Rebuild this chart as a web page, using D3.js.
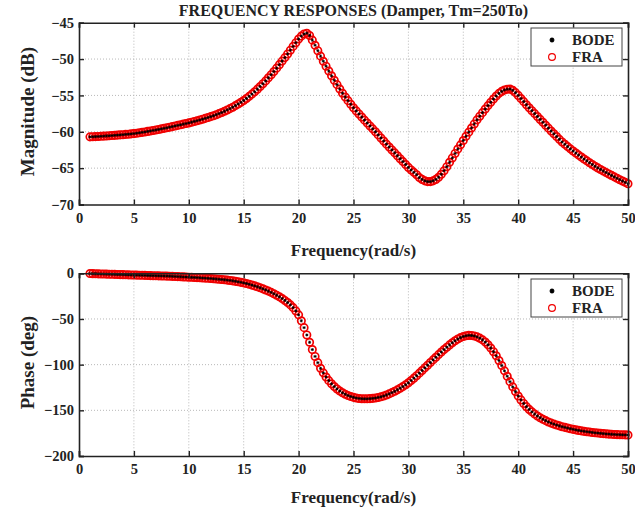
<!DOCTYPE html>
<html><head><meta charset="utf-8">
<script src="https://cdn.jsdelivr.net/npm/d3@7/dist/d3.min.js"></script>
<style>body{margin:0;background:#fff}svg{display:block}text{font-family:"Liberation Serif","Times New Roman",serif;font-weight:bold;fill:#222}</style>
</head><body>
<script>
const titleText = "FREQUENCY RESPONSES (Damper, Tm=250To)";
const xLabel = "Frequency(rad/s)";
const magLabel = "Magnitude (dB)";
const phaseLabel = "Phase (deg)";
const seriesNames = ["BODE", "FRA"];
const xTicks = [0,5,10,15,20,25,30,35,40,45,50];
const magTicks = [-70,-65,-60,-55,-50,-45];
const phaseTicks = [-200,-150,-100,-50,0];
// frequency grid (rad/s), 0.25 rad/s step from 1 to 50
const freq = d3.range(1, 50.001, 0.25);
// magnitude (dB)
const magBode = [
-60.70,-60.68,-60.67,-60.65,-60.62,-60.60,-60.57,-60.55,-60.52,-60.49,-60.46,-60.43,-60.40,-60.36,-60.33,-60.29,
-60.25,-60.20,-60.14,-60.08,-60.02,-59.95,-59.89,-59.82,-59.75,-59.68,-59.60,-59.53,-59.45,-59.37,-59.29,-59.20,
-59.12,-59.04,-58.95,-58.87,-58.78,-58.68,-58.58,-58.48,-58.38,-58.27,-58.16,-58.04,-57.92,-57.79,-57.65,-57.50,
-57.35,-57.18,-57.00,-56.82,-56.62,-56.40,-56.18,-55.95,-55.70,-55.42,-55.13,-54.82,-54.50,-54.14,-53.77,-53.39,
-53.00,-52.58,-52.15,-51.71,-51.25,-50.77,-50.28,-49.80,-49.30,-48.78,-48.26,-47.75,-47.25,-46.85,-46.55,-46.45,
-46.75,-47.40,-48.10,-48.85,-49.60,-50.30,-50.98,-51.65,-52.30,-52.92,-53.52,-54.12,-54.70,-55.22,-55.72,-56.22,
-56.70,-57.13,-57.55,-57.98,-58.40,-58.80,-59.20,-59.60,-60.00,-60.43,-60.85,-61.28,-61.70,-62.10,-62.50,-62.90,
-63.30,-63.70,-64.10,-64.50,-64.90,-65.25,-65.58,-65.90,-66.30,-66.55,-66.75,-66.85,-66.85,-66.75,-66.55,-66.25,
-65.85,-65.35,-64.80,-64.20,-63.60,-62.98,-62.38,-61.80,-61.20,-60.62,-60.05,-59.48,-58.92,-58.36,-57.86,-57.37,
-56.88,-56.40,-55.94,-55.50,-55.08,-54.72,-54.45,-54.25,-54.15,-54.12,-54.30,-54.62,-55.00,-55.43,-55.85,-56.28,
-56.70,-57.10,-57.50,-57.90,-58.30,-58.70,-59.10,-59.50,-59.90,-60.28,-60.66,-61.04,-61.40,-61.72,-62.04,-62.35,
-62.65,-62.93,-63.21,-63.48,-63.75,-64.00,-64.26,-64.50,-64.75,-64.97,-65.18,-65.39,-65.60,-65.80,-66.00,-66.20,
-66.40,-66.59,-66.78,-66.96,-67.15];
const magFra = magBode.slice();
// phase (deg)
const phaseBode = [
-0.3,-0.4,-0.5,-0.6,-0.7,-0.8,-0.9,-1.0,-1.1,-1.2,-1.3,-1.4,-1.5,-1.6,-1.7,-1.8,
-1.9,-2.0,-2.1,-2.2,-2.3,-2.4,-2.5,-2.6,-2.7,-2.8,-2.9,-3.0,-3.1,-3.2,-3.35,-3.5,
-3.65,-3.8,-3.95,-4.1,-4.25,-4.4,-4.55,-4.7,-4.9,-5.1,-5.3,-5.5,-5.7,-5.95,-6.2,-6.5,
-6.8,-7.1,-7.45,-7.85,-8.3,-8.8,-9.3,-9.9,-10.5,-11.2,-12.0,-12.9,-13.8,-14.8,-15.9,-17.0,
-18.2,-19.5,-20.9,-22.4,-24.0,-25.7,-27.6,-29.7,-32.0,-34.6,-37.6,-41.2,-45.5,-52.0,-59.5,-67.5,
-75.5,-83.5,-91.0,-97.8,-104.0,-109.0,-113.5,-117.5,-121.0,-124.0,-126.6,-128.9,-130.8,-132.4,-133.8,-134.9,
-135.8,-136.5,-137.0,-137.3,-137.4,-137.4,-137.2,-136.9,-136.5,-135.9,-135.2,-134.3,-133.2,-132.0,-130.6,-129.2,
-127.6,-125.8,-124.0,-122.0,-119.9,-117.4,-114.8,-112.1,-109.3,-106.4,-103.5,-100.6,-97.7,-94.8,-91.9,-89.0,
-86.2,-83.5,-80.9,-78.4,-76.0,-73.9,-72.0,-70.4,-69.2,-68.4,-68.0,-68.1,-68.6,-69.6,-71.0,-72.9,
-75.3,-78.3,-81.8,-85.8,-90.3,-95.5,-101.0,-106.8,-112.7,-118.6,-124.3,-129.5,-134.3,-138.6,-142.5,-146.0,
-149.0,-151.7,-154.1,-156.2,-158.1,-159.8,-161.3,-162.7,-164.0,-165.1,-166.1,-167.0,-167.9,-168.7,-169.4,-170.1,
-170.8,-171.4,-172.0,-172.5,-173.0,-173.4,-173.8,-174.2,-174.6,-174.9,-175.2,-175.5,-175.8,-176.0,-176.2,-176.4,
-176.6,-176.7,-176.8,-176.9,-177.0];
const phaseFra = phaseBode.slice();

const W = 635, H = 511;
const svg = d3.select("body").append("svg").attr("width", W).attr("height", H);
const L = 79, R = 628;

function asterisk(s) {
  const d = s * 0.7;
  return `M${-s},0L${s},0M0,${-s}L0,${s}M${-d},${-d}L${d},${d}M${-d},${d}L${d},${-d}`;
}

function panel(top, bottom, yDomain, yTicks, ySeriesBode, ySeriesFra, yLabel, xLabelY, legendY) {
  const x = d3.scaleLinear().domain([0, 50]).range([L, R]);
  const y = d3.scaleLinear().domain(yDomain).range([bottom, top]);
  const g = svg.append("g");
  // grid
  g.append("g").selectAll("line").data(xTicks.slice(1, -1)).join("line")
    .attr("x1", d => x(d)).attr("x2", d => x(d)).attr("y1", top).attr("y2", bottom)
    .attr("stroke", "#b8b8b8").attr("stroke-width", 1).attr("stroke-dasharray", "1,2");
  g.append("g").selectAll("line").data(yTicks.slice(1, -1)).join("line")
    .attr("y1", d => y(d)).attr("y2", d => y(d)).attr("x1", L).attr("x2", R)
    .attr("stroke", "#b8b8b8").attr("stroke-width", 1).attr("stroke-dasharray", "1,2");
  // data
  const fraData = freq.map((f, i) => [f, ySeriesFra[i]]);
  const bodeData = freq.map((f, i) => [f, ySeriesBode[i]]);
  g.append("g").selectAll("circle").data(fraData).join("circle")
    .attr("cx", d => x(d[0])).attr("cy", d => y(d[1])).attr("r", 3.7)
    .attr("fill", "none").attr("stroke", "#f00000").attr("stroke-width", 1.7);
  g.append("g").selectAll("path").data(bodeData).join("path")
    .attr("transform", d => `translate(${x(d[0])},${y(d[1])})`)
    .attr("d", asterisk(1.5)).attr("stroke", "#000").attr("stroke-width", 0.9);
  // axes
  const axB = d3.axisBottom(x).tickValues(xTicks).tickSize(-5).tickPadding(8).tickFormat(d3.format("d"));
  const axT = d3.axisTop(x).tickValues(xTicks).tickSize(-5).tickFormat("");
  const axL = d3.axisLeft(y).tickValues(yTicks).tickSize(-5).tickPadding(5).tickFormat(d3.format("d"));
  const axR = d3.axisRight(y).tickValues(yTicks).tickSize(-5).tickFormat("");
  const gb = g.append("g").attr("transform", `translate(0,${bottom})`).call(axB);
  const gt = g.append("g").attr("transform", `translate(0,${top})`).call(axT);
  const gl = g.append("g").attr("transform", `translate(${L},0)`).call(axL);
  const gr = g.append("g").attr("transform", `translate(${R},0)`).call(axR);
  [gb, gt, gl, gr].forEach(a => {
    a.select(".domain").attr("stroke", "#222").attr("stroke-width", 1.6);
    a.selectAll(".tick line").attr("stroke", "#222").attr("stroke-width", 1.4);
    a.selectAll("text").style("font-family", '"Liberation Serif",serif').style("font-weight", "bold")
      .style("font-size", "14.5px").attr("fill", "#222");
  });
  // labels
  svg.append("text").attr("x", (L + R) / 2).attr("y", xLabelY).attr("text-anchor", "middle")
    .style("font-size", "17px").text(xLabel);
  svg.append("text").attr("transform", `translate(34,${(top + bottom) / 2 - 2}) rotate(-90)`)
    .attr("text-anchor", "middle").style("font-size", "19px").text(yLabel);
  // legend
  const lg = svg.append("g").attr("transform", `translate(531,${legendY})`);
  lg.append("rect").attr("width", 91).attr("height", 38).attr("fill", "#fff")
    .attr("stroke", "#444").attr("stroke-width", 1);
  lg.append("path").attr("transform", "translate(21,12)").attr("d", asterisk(2.4))
    .attr("stroke", "#000").attr("stroke-width", 1.4);
  lg.append("circle").attr("cx", 21).attr("cy", 29).attr("r", 3.4)
    .attr("fill", "none").attr("stroke", "#f00000").attr("stroke-width", 1.2);
  lg.append("text").attr("x", 41).attr("y", 17).style("font-size", "15px").text(seriesNames[0]);
  lg.append("text").attr("x", 41).attr("y", 34).style("font-size", "15px").text(seriesNames[1]);
}

svg.append("text").attr("x", (L + R) / 2).attr("y", 16).attr("text-anchor", "middle")
  .style("font-size", "16px").text(titleText);

panel(22.7, 204.5, [-70, -45], magTicks, magBode, magFra, magLabel, 256, 28);
panel(273.3, 456, [-200, 0], phaseTicks, phaseBode, phaseFra, phaseLabel, 503, 279);
</script>
</body></html>
